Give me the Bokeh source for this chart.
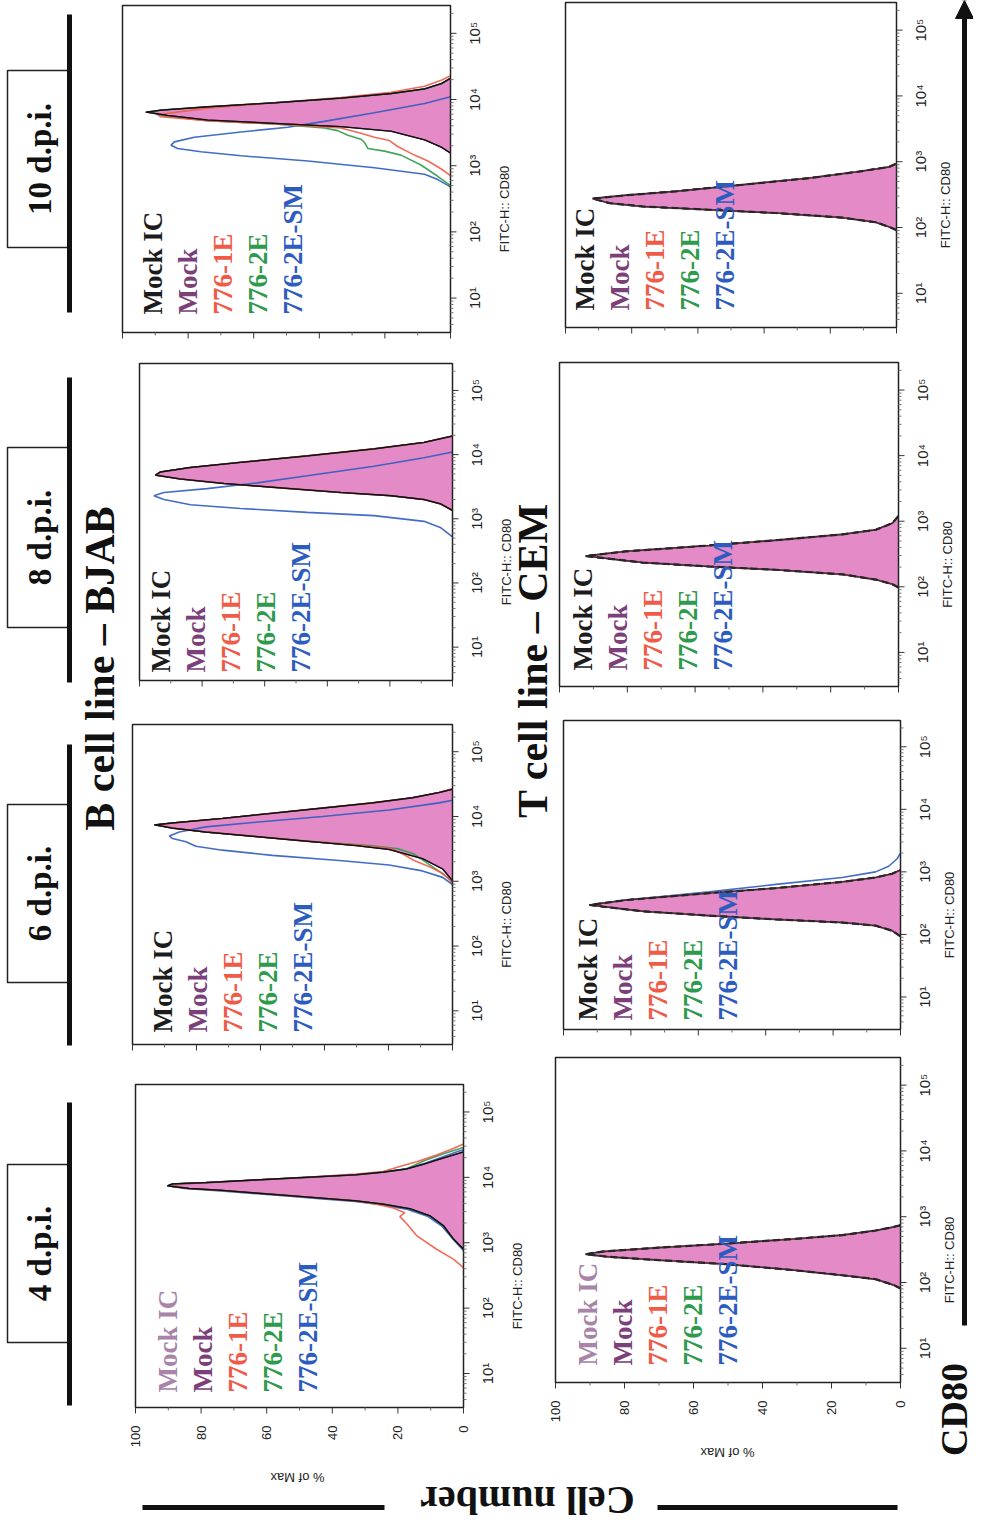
import numpy as np
from bokeh.plotting import figure
from bokeh.models import Range1d, Arrow, NormalHead
from bokeh.core.properties import value
from bokeh.embed import file_html
from bokeh.resources import INLINE

# ---------------- data ----------------
SERIES = ["Mock IC", "Mock", "776-1E", "776-2E", "776-2E-SM"]
DAYS = ["4 d.p.i.", "6 d.p.i.", "8 d.p.i.", "10 d.p.i."]
PCT_TICKS = [0, 20, 40, 60, 80, 100]
PCT_LABELS = ["0", "20", "40", "60", "80", "100"]
LOG_TICKS = [1, 2, 3, 4, 5]
LOG_LABELS = ["10\u00b9", "10\u00b2", "10\u00b3", "10\u2074", "10\u2075"]
AXIS_LABEL = "FITC-H:: CD80"
PCT_AXIS_LABEL = "% of Max"
TITLE_B = "B cell line \u2013 BJAB"
TITLE_T = "T cell line \u2013 CEM"

# curves: (log10 CD80, % of Max)
B4_MOCK = [(2.90, 0), (3.06, 3.1), (3.26, 6.1), (3.41, 10.2), (3.52, 16.3), (3.59, 24.5), (3.64, 32.7),
           (3.68, 42.9), (3.72, 53.1), (3.76, 63.3), (3.80, 73.5), (3.83, 83.7), (3.87, 90.3), (3.90, 88.8),
           (3.92, 78.6), (3.96, 63.3), (4.00, 48.0), (4.04, 32.7), (4.08, 24.5), (4.13, 17.3), (4.20, 12.2),
           (4.28, 7.1), (4.36, 2.0), (4.39, 0)]
B4_IC = B4_MOCK
B4_1E = [(2.62, 0), (2.75, 3.1), (2.90, 8.2), (3.11, 14.3), (3.29, 17.3), (3.40, 19.4), (3.46, 17.9),
         (3.53, 21.4), (3.59, 26.5), (3.64, 32.7), (3.68, 42.9), (3.72, 53.1), (3.76, 63.3), (3.80, 73.5),
         (3.83, 83.7), (3.87, 88.5), (3.90, 87.0), (3.92, 78.6), (3.96, 63.3), (4.00, 48.0), (4.05, 32.7),
         (4.09, 24.5), (4.18, 18.4), (4.24, 14.3), (4.34, 8.2), (4.44, 3.1), (4.51, 0)]
B4_2E = [(2.90, 0), (3.06, 3.1), (3.26, 6.1), (3.41, 10.2), (3.52, 16.3), (3.59, 24.5), (3.64, 32.7),
         (3.68, 42.9), (3.72, 53.1), (3.76, 63.3), (3.80, 73.5), (3.83, 83.7), (3.87, 89.5), (3.90, 88.0),
         (3.92, 78.6), (3.96, 63.3), (4.00, 48.0), (4.04, 32.7), (4.08, 24.5), (4.13, 17.3), (4.25, 12.2),
         (4.36, 6.1), (4.44, 1.0), (4.46, 0)]
B4_SM = [(2.88, 0), (3.05, 3.1), (3.25, 6.5), (3.40, 10.8), (3.51, 17.0), (3.58, 25.0), (3.63, 33.0),
         (3.67, 43.0), (3.71, 53.0), (3.75, 63.0), (3.79, 74.0), (3.83, 85.0), (3.86, 89.0), (3.90, 87.0),
         (3.92, 78.6), (3.96, 63.3), (4.00, 48.0), (4.04, 32.7), (4.08, 24.5), (4.13, 17.3), (4.22, 11.5),
         (4.32, 6.0), (4.40, 1.5), (4.42, 0)]

B6_MOCK = [(3.01, 0), (3.19, 3.1), (3.35, 9.4), (3.49, 19.8), (3.55, 30.2), (3.62, 45.8), (3.69, 61.5),
           (3.76, 77.1), (3.82, 87.5), (3.87, 93.2), (3.90, 87.5), (3.97, 71.9), (4.05, 56.3), (4.13, 40.6),
           (4.21, 25.0), (4.29, 12.5), (4.37, 4.2), (4.42, 0)]
B6_IC = B6_MOCK
B6_1E = [(2.98, 0), (3.12, 3.0), (3.22, 7.0), (3.32, 12.0), (3.42, 15.5), (3.50, 19.0), (3.55, 28.0),
         (3.62, 45.8), (3.69, 61.5), (3.76, 77.1), (3.82, 87.5), (3.87, 92.0), (3.90, 87.5), (3.97, 71.9),
         (4.05, 56.3), (4.13, 40.6), (4.21, 25.0), (4.29, 12.5), (4.37, 4.2), (4.43, 0)]
B6_2E = [(3.00, 0), (3.15, 4.0), (3.30, 8.5), (3.42, 12.0), (3.50, 17.0), (3.55, 26.0), (3.62, 45.8),
         (3.69, 61.5), (3.76, 77.1), (3.82, 87.5), (3.87, 92.5), (3.90, 87.5), (3.97, 71.9), (4.05, 56.3),
         (4.13, 40.6), (4.21, 25.0), (4.29, 12.5), (4.37, 4.2), (4.42, 0)]
B6_SM = [(2.95, 0), (3.06, 3.1), (3.16, 9.4), (3.25, 19.8), (3.32, 35.4), (3.40, 56.3), (3.48, 71.9),
         (3.54, 80.2), (3.61, 83.3), (3.66, 87.5), (3.70, 88.5), (3.76, 85.4), (3.84, 77.1), (3.91, 61.5),
         (4.00, 40.6), (4.10, 19.8), (4.21, 4.2), (4.25, 0)]

B8_MOCK = [(3.13, 0), (3.23, 3.7), (3.30, 9.1), (3.36, 19.7), (3.41, 35.7), (3.49, 57.0), (3.55, 73.0),
           (3.62, 86.9), (3.68, 94.9), (3.73, 93.3), (3.80, 83.7), (3.88, 67.7), (3.98, 46.4), (4.09, 25.1),
           (4.19, 9.1), (4.29, 0)]
B8_IC = B8_MOCK
B8_1E = B8_MOCK
B8_2E = B8_MOCK
B8_SM = [(2.72, 0), (2.86, 3.7), (2.96, 9.1), (3.05, 25.1), (3.10, 46.4), (3.16, 67.7), (3.22, 83.7),
         (3.30, 92.2), (3.36, 95.4), (3.41, 92.2), (3.47, 78.4), (3.56, 62.4), (3.67, 46.4), (3.82, 25.1),
         (3.95, 9.1), (4.04, 0)]

B10_MOCK = [(3.19, 0), (3.28, 2.8), (3.39, 7.9), (3.52, 18.1), (3.59, 33.4), (3.64, 53.7), (3.69, 74.1),
            (3.76, 86.3), (3.81, 92.9), (3.84, 88.3), (3.89, 74.1), (3.95, 53.7), (4.02, 33.4), (4.09, 18.1),
            (4.16, 7.9), (4.24, 2.8), (4.32, 0)]
B10_IC = B10_MOCK
B10_1E = [(2.85, 0), (2.95, 2.8), (3.07, 6.9), (3.16, 11.0), (3.29, 16.1), (3.38, 18.6), (3.43, 23.2),
          (3.49, 27.3), (3.57, 33.4), (3.63, 53.7), (3.68, 74.1), (3.74, 88.3), (3.77, 89.3), (3.87, 74.1),
          (3.95, 53.7), (4.03, 33.4), (4.11, 18.1), (4.20, 7.9), (4.29, 2.8), (4.36, 0)]
B10_2E = [(2.70, 0), (2.84, 3.9), (3.01, 9.0), (3.16, 15.1), (3.22, 20.1), (3.26, 25.2), (3.35, 26.2),
          (3.40, 27.3), (3.46, 31.3), (3.53, 34.4), (3.57, 38.5), (3.63, 53.7), (3.68, 74.1), (3.75, 87.5),
          (3.80, 91.0), (3.84, 88.3), (3.89, 74.1), (3.95, 53.7), (4.02, 33.4), (4.09, 18.1), (4.16, 7.9),
          (4.24, 2.8), (4.32, 0)]
B10_SM = [(2.68, 0), (2.79, 3.9), (2.87, 7.9), (2.97, 23.2), (3.07, 43.5), (3.15, 63.9), (3.21, 76.1),
          (3.26, 83.2), (3.31, 85.2), (3.36, 84.2), (3.43, 78.1), (3.51, 63.9), (3.58, 49.6), (3.67, 38.5),
          (3.80, 23.2), (3.94, 7.9), (4.04, 0)]

T4_MOCK = [(1.91, 0), (1.96, 1.9), (2.05, 7.2), (2.11, 16.9), (2.19, 31.4), (2.28, 50.7), (2.34, 70.0),
           (2.39, 84.5), (2.43, 91.3), (2.47, 86.5), (2.53, 70.0), (2.59, 50.7), (2.66, 31.4), (2.72, 16.9),
           (2.79, 7.2), (2.84, 2.4), (2.87, 0)]
T6_MOCK = [(1.97, 0), (2.06, 2.5), (2.14, 7.4), (2.19, 17.3), (2.24, 37.0), (2.30, 56.8), (2.37, 76.5),
           (2.47, 92.3), (2.55, 81.4), (2.66, 56.8), (2.74, 37.0), (2.84, 17.3), (2.91, 7.4), (2.97, 2.5),
           (3.03, 0)]
T6_SM = [(1.97, 0), (2.06, 2.5), (2.14, 7.4), (2.19, 17.3), (2.24, 37.0), (2.30, 56.8), (2.37, 76.5),
         (2.47, 92.3), (2.55, 81.4), (2.68, 56.8), (2.80, 37.0), (2.91, 17.3), (3.00, 7.4), (3.09, 3.5),
         (3.21, 1.0), (3.30, 0)]
T8_MOCK = [(1.99, 0), (2.04, 1.8), (2.11, 6.7), (2.19, 16.5), (2.26, 36.2), (2.31, 55.9), (2.37, 75.6),
           (2.47, 92.3), (2.54, 80.5), (2.63, 55.9), (2.71, 36.2), (2.80, 16.5), (2.87, 6.7), (2.97, 1.8),
           (3.08, 0)]
T10_MOCK = [(1.96, 0), (2.01, 2.3), (2.08, 6.3), (2.15, 16.4), (2.22, 36.5), (2.27, 56.6), (2.32, 76.7),
            (2.37, 86.7), (2.44, 91.8), (2.49, 81.7), (2.55, 66.6), (2.65, 46.5), (2.75, 26.4), (2.85, 11.4),
            (2.92, 2.3), (2.97, 0)]

# ---------------- style / layout ----------------
W, H = 973, 1522
X0, Y0 = 8, 8
SERIF = value("Liberation Serif")
SANS = value("Liberation Sans")
U0, U1 = 0.48, 5.42
COL = {"Mock IC": "#1c1c1c", "Mock": "#7b3f7a", "776-1E": "#ef5b47",
       "776-2E": "#2e9a4b", "776-2E-SM": "#2d5cc0"}
PALE_IC = "#a784a8"
FILL = "#e48ac6"
OUTLINE = "#4a234a"

PANELS = [
    dict(key="B4", L=143, R=471, T=1092, B=1415, lx=32, ly=15, ic=PALE_IC, pct=(305, 1485), dashed=False, fx=54,
         curves={"Mock IC": B4_IC, "Mock": B4_MOCK, "776-1E": B4_1E, "776-2E": B4_2E, "776-2E-SM": B4_SM}),
    dict(key="B6", L=140, R=460, T=732, B=1052, lx=30, ly=12, ic=COL["Mock IC"], pct=None, dashed=False, fx=54,
         curves={"Mock IC": B6_IC, "Mock": B6_MOCK, "776-1E": B6_1E, "776-2E": B6_2E, "776-2E-SM": B6_SM}),
    dict(key="B8", L=147, R=460, T=371, B=688, lx=21, ly=8, ic=COL["Mock IC"], pct=None, dashed=False, fx=54,
         curves={"Mock IC": B8_IC, "Mock": B8_MOCK, "776-1E": B8_1E, "776-2E": B8_2E, "776-2E-SM": B8_SM}),
    dict(key="B10", L=130, R=458, T=13, B=340, lx=30, ly=18, ic=COL["Mock IC"], pct=None, dashed=False, fx=54,
         curves={"Mock IC": B10_IC, "Mock": B10_MOCK, "776-1E": B10_1E, "776-2E": B10_2E, "776-2E-SM": B10_SM}),
    dict(key="T4", L=563, R=908, T=1065, B=1390, lx=32, ly=17, ic=PALE_IC, pct=(735, 1460), dashed=True, fx=49,
         curves={"Mock IC": T4_MOCK, "Mock": T4_MOCK, "776-1E": T4_MOCK, "776-2E": T4_MOCK, "776-2E-SM": T4_MOCK}),
    dict(key="T6", L=571, R=908, T=728, B=1037, lx=24, ly=9, ic=COL["Mock IC"], pct=None, dashed=True, fx=49,
         curves={"Mock IC": T6_MOCK, "Mock": T6_MOCK, "776-1E": T6_MOCK, "776-2E": T6_MOCK, "776-2E-SM": T6_SM}),
    dict(key="T8", L=567, R=906, T=370, B=694, lx=23, ly=16, ic=COL["Mock IC"], pct=None, dashed=True, fx=49,
         curves={"Mock IC": T8_MOCK, "Mock": T8_MOCK, "776-1E": T8_MOCK, "776-2E": T8_MOCK, "776-2E-SM": T8_MOCK}),
    dict(key="T10", L=573, R=904, T=10, B=335, lx=19, ly=17, ic=COL["Mock IC"], pct=None, dashed=True, fx=49,
         curves={"Mock IC": T10_MOCK, "Mock": T10_MOCK, "776-1E": T10_MOCK, "776-2E": T10_MOCK, "776-2E-SM": T10_MOCK}),
]

DAY_BOXES = [(1172, 1350, 1110, 1413), (812, 990, 752, 1053), (455, 635, 385, 690), (78, 255, 22, 320)]

p = figure(width=W, height=H, x_range=Range1d(X0, X0 + W), y_range=Range1d(Y0 + H, Y0),
           output_backend="svg", toolbar_location=None, x_axis_location=None, y_axis_location=None,
           min_border=0, outline_line_color=None, background_fill_color="white", border_fill_color="white")
p.xgrid.visible = False
p.ygrid.visible = False


def xs_of(c):
    return [v for u, v in c]


def ys_of(c):
    return [u for u, v in c]


for P in PANELS:
    L, R, T, B = P["L"], P["R"], P["T"], P["B"]
    xn, yn = "x" + P["key"], "y" + P["key"]
    sx = 100.0 / (R - L)
    sy = (U1 - U0) / (B - T)
    p.extra_x_ranges[xn] = Range1d(start=(R - X0) * sx, end=(R - X0 - W) * sx)
    p.extra_y_ranges[yn] = Range1d(start=U0 + (B - Y0 - H) * sy, end=U0 + (B - Y0) * sy)
    kw = dict(x_range_name=xn, y_range_name=yn)
    cv = P["curves"]
    mock = cv["Mock"]
    p.patch(xs_of(mock), ys_of(mock), fill_color=FILL, line_color=None, **kw)
    for s in ["776-2E-SM", "776-2E", "776-1E"]:
        p.line(xs_of(cv[s]), ys_of(cv[s]), line_color=COL[s], line_width=1.6, line_alpha=0.9, **kw)
    p.line(xs_of(mock), ys_of(mock), line_color=OUTLINE, line_width=1.4, **kw)
    ic = cv["Mock IC"]
    if P["dashed"]:
        p.line(xs_of(ic), ys_of(ic), line_color="#262626", line_width=2.2, line_dash="7 4", **kw)
    else:
        p.line(xs_of(ic), ys_of(ic), line_color="#111111", line_width=1.2, **kw)
    # frame
    p.quad(left=[100], right=[0], bottom=[U0], top=[U1], fill_color=None,
           line_color="#222222", line_width=1.5, **kw)
    # % of Max ticks (bottom edge)
    minor_pct = [10, 30, 50, 70, 90]
    p.segment(x0=PCT_TICKS, x1=PCT_TICKS, y0=[U0] * 6, y1=[U0 - 6 * sy] * 6,
              line_color="#333333", line_width=1, **kw)
    p.segment(x0=minor_pct, x1=minor_pct, y0=[U0] * 5, y1=[U0 - 3 * sy] * 5,
              line_color="#666666", line_width=1, **kw)
    # CD80 ticks (right edge)
    minor_log = [d + np.log10(k) for d in range(0, 6) for k in range(2, 10)
                 if U0 < d + np.log10(k) < U1]
    p.segment(x0=[0] * 5, x1=[-6 * sx] * 5, y0=LOG_TICKS, y1=LOG_TICKS,
              line_color="#333333", line_width=1, **kw)
    p.segment(x0=[0] * len(minor_log), x1=[-3 * sx] * len(minor_log), y0=minor_log, y1=minor_log,
              line_color="#777777", line_width=1, **kw)
    p.text(x=[-24 * sx] * 5, y=LOG_TICKS, text=LOG_LABELS, angle=np.pi / 2, text_align="center",
           text_baseline="middle", text_font=SANS, text_font_size="15px", text_color="#222222", **kw)
    p.text(x=[-P["fx"] * sx], y=[(U0 + U1) / 2 - 40 * sy], text=[AXIS_LABEL], angle=np.pi / 2,
           text_align="center", text_baseline="middle", text_font=SANS, text_font_size="13px",
           text_color="#222222", **kw)
    if P["pct"] is not None:
        p.text(x=PCT_TICKS, y=[U0 - 18 * sy] * 6, text=PCT_LABELS, angle=np.pi / 2, text_align="right",
               text_baseline="middle", text_font=SANS, text_font_size="13px", text_color="#222222", **kw)
        p.text(x=[P["pct"][0]], y=[P["pct"][1]], text=[PCT_AXIS_LABEL], angle=np.pi, text_align="center",
               text_baseline="middle", text_font=SANS, text_font_size="13px", text_color="#222222")
    # legend text
    lcols = [P["ic"], COL["Mock"], COL["776-1E"], COL["776-2E"], COL["776-2E-SM"]]
    p.text(x=[L + P["lx"] + 35 * i for i in range(5)], y=[B - P["ly"]] * 5, text=SERIES, text_color=lcols,
           angle=np.pi / 2, text_align="left", text_baseline="middle", text_font=SERIF,
           text_font_style="bold", text_font_size="27px")

# day boxes and header bars
for (bt, bb, lt, lb), day in zip(DAY_BOXES, DAYS):
    p.quad(left=[15], right=[77], top=[bt], bottom=[bb], fill_color="white",
           line_color="#222222", line_width=1.5)
    p.segment(x0=[77], x1=[77], y0=[lt], y1=[lb], line_color="#111111", line_width=5)
    p.text(x=[47], y=[(bt + bb) / 2], text=[day], angle=np.pi / 2, text_align="center",
           text_baseline="middle", text_font=SERIF, text_font_style="bold", text_font_size="33px",
           text_color="#111111")

p.text(x=[107, 540], y=[676, 668], text=[TITLE_B, TITLE_T], angle=np.pi / 2, text_align="center",
       text_baseline="middle", text_font=SERIF, text_font_style="bold", text_font_size="42px",
       text_color="#111111")

# Cell number axis title
p.segment(x0=[150, 665], x1=[392, 905], y0=[1515, 1515], y1=[1515, 1515], line_color="#111111", line_width=5)
p.text(x=[535], y=[1508], text=["Cell number"], angle=np.pi, text_align="center", text_baseline="middle",
       text_font=SERIF, text_font_style="bold", text_font_size="40px", text_color="#111111")

# CD80 arrow
p.add_layout(Arrow(end=NormalHead(size=18, fill_color="#111111", line_color="#111111"),
                   x_start=972, y_start=1333, x_end=972, y_end=8, line_width=5, line_color="#111111"))
p.text(x=[961], y=[1417], text=["CD80"], angle=np.pi / 2, text_align="center", text_baseline="middle",
       text_font=SERIF, text_font_style="bold", text_font_size="38px", text_color="#111111")

open("out.html", "w").write(file_html(p, INLINE))
